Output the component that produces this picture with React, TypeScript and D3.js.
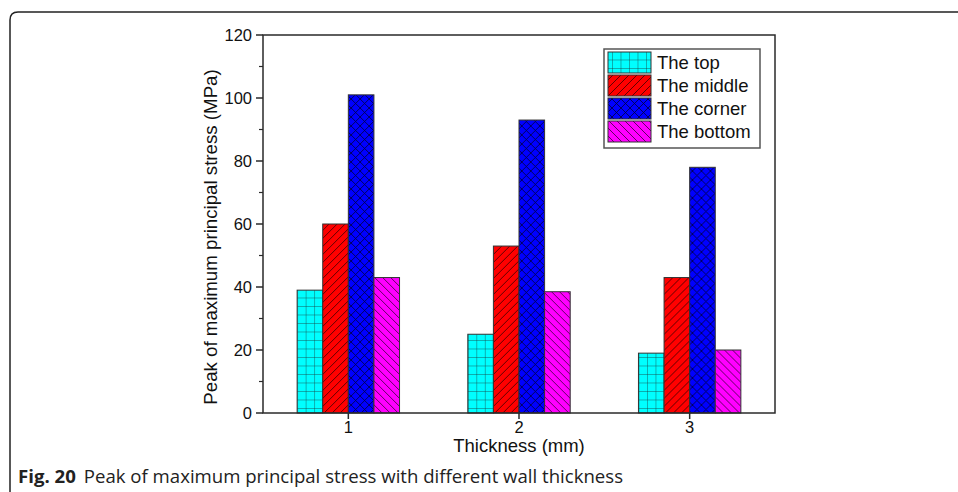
import React from 'react';
import * as d3 from 'd3';

const thickness = ['1', '2', '3'];
const series = ['The top', 'The middle', 'The corner', 'The bottom'];
const topValues = [39, 25, 19];
const middleValues = [60, 53, 43];
const cornerValues = [101, 93, 78];
const bottomValues = [43, 38.5, 20];
const yTicks = [0, 20, 40, 60, 80, 100, 120];
const yMinorTicks = [10, 30, 50, 70, 90, 110];

const colors = ['#00ffff', '#ff0000', '#0000ff', '#ff00ff'];
const patternIds = ['pat-grid', 'pat-fwd', 'pat-cross', 'pat-back'];

const values = [topValues, middleValues, cornerValues, bottomValues];

const W = 958, H = 492;
const left = 263, right = 775, top = 35, bottom = 413;
const axisColor = '#2a2a2a';
const font = '"Liberation Sans", Arial, sans-serif';

const App = () => {
    const x = d3.scaleBand()
        .domain(thickness)
        .range([left, right])
        .paddingInner(0.4)
        .paddingOuter(0.2);

    const xs = d3.scaleBand()
        .domain(series)
        .range([0, x.bandwidth()]);

    const y = d3.scaleLinear()
        .domain([0, 120])
        .range([bottom, top]);

    const legendX = 604, legendY = 49, rowH = 23;

    return (
        <svg width={W} height={H} style={{ position: 'absolute', left: 0, top: 0, background: '#fff' }}>
            <defs>
                <pattern id="pat-grid" width={8.5} height={8.5} patternUnits="userSpaceOnUse">
                    <rect width={8.5} height={8.5} fill={colors[0]} />
                    <path d="M0,0 H8.5 M0,0 V8.5" stroke="#1a3a3a" strokeWidth={0.8} />
                </pattern>
                <pattern id="pat-fwd" width={8} height={8} patternUnits="userSpaceOnUse">
                    <rect width={8} height={8} fill={colors[1]} />
                    <path d="M-2,2 L2,-2 M0,8 L8,0 M6,10 L10,6" stroke="#3a0000" strokeWidth={0.8} />
                </pattern>
                <pattern id="pat-cross" width={9} height={9} patternUnits="userSpaceOnUse">
                    <rect width={9} height={9} fill={colors[2]} />
                    <path d="M0,9 L9,0 M-2,2 L2,-2 M7,11 L11,7 M0,0 L9,9 M-2,7 L2,11 M7,-2 L11,2" stroke="#00003a" strokeWidth={0.8} />
                </pattern>
                <pattern id="pat-back" width={8} height={8} patternUnits="userSpaceOnUse">
                    <rect width={8} height={8} fill={colors[3]} />
                    <path d="M0,0 L8,8 M-2,6 L2,10 M6,-2 L10,2" stroke="#3a003a" strokeWidth={0.8} />
                </pattern>
            </defs>

            {/* page frame */}
            <path d="M10,492 V20 Q10,12 18,12 H958" fill="none" stroke="#222" strokeWidth={1.5} />

            {/* bars */}
            {thickness.map((t, i) => (
                <g key={t} transform={`translate(${x(t)},0)`}>
                    {series.map((s, j) => (
                        <rect key={s}
                            x={xs(s)}
                            y={y(values[j][i])}
                            width={xs.bandwidth()}
                            height={y(0) - y(values[j][i])}
                            fill={`url(#${patternIds[j]})`}
                            stroke="#333"
                            strokeWidth={1} />
                    ))}
                </g>
            ))}

            {/* axes box */}
            <rect x={left} y={top} width={right - left} height={bottom - top} fill="none" stroke={axisColor} strokeWidth={1.5} />

            {/* y ticks */}
            {yTicks.map(v => (
                <g key={v}>
                    <line x1={left - 7} x2={left} y1={y(v)} y2={y(v)} stroke={axisColor} strokeWidth={1.5} />
                    <text x={left - 11} y={y(v)} dy="0.35em" textAnchor="end" fontFamily={font} fontSize={16.5} fill="#111">{v}</text>
                </g>
            ))}
            {yMinorTicks.map(v => (
                <line key={v} x1={left - 4} x2={left} y1={y(v)} y2={y(v)} stroke={axisColor} strokeWidth={1.2} />
            ))}

            {/* x ticks */}
            {thickness.map(t => {
                const cx = (x(t) ?? 0) + x.bandwidth() / 2;
                return (
                    <g key={t}>
                        <line x1={cx} x2={cx} y1={bottom} y2={bottom + 6} stroke={axisColor} strokeWidth={1.5} />
                        <text x={cx} y={bottom + 20} textAnchor="middle" fontFamily={font} fontSize={16.5} fill="#111">{t}</text>
                    </g>
                );
            })}

            {/* axis titles */}
            <text x={(left + right) / 2} y={452} textAnchor="middle" fontFamily={font} fontSize={18.5} fill="#111">Thickness (mm)</text>
            <text transform={`translate(217,237) rotate(-90)`} textAnchor="middle" fontFamily={font} fontSize={18.7} fill="#111">
                Peak of maximum principal stress (MPa)
            </text>

            {/* legend */}
            <rect x={legendX} y={legendY} width={156} height={99} fill="#fff" stroke="#555" strokeWidth={1.5} />
            {series.map((s, j) => (
                <g key={s}>
                    <rect x={legendX + 4} y={legendY + 3 + j * rowH} width={43} height={21}
                        fill={`url(#${patternIds[j]})`} stroke="#333" strokeWidth={1} />
                    <text x={legendX + 53} y={legendY + 14 + j * rowH} dy="0.35em" fontFamily={font} fontSize={18.5} fill="#111">{s}</text>
                </g>
            ))}

            {/* caption */}
            <text x={18} y={483} fontFamily='"Open Sans", "Noto Sans", sans-serif' fontSize={18.6} fill="#222">
                <tspan fontWeight="bold">Fig. 20</tspan>
                <tspan dx={8}>Peak of maximum principal stress with different wall thickness</tspan>
            </text>
        </svg>
    );
};

export default App;
